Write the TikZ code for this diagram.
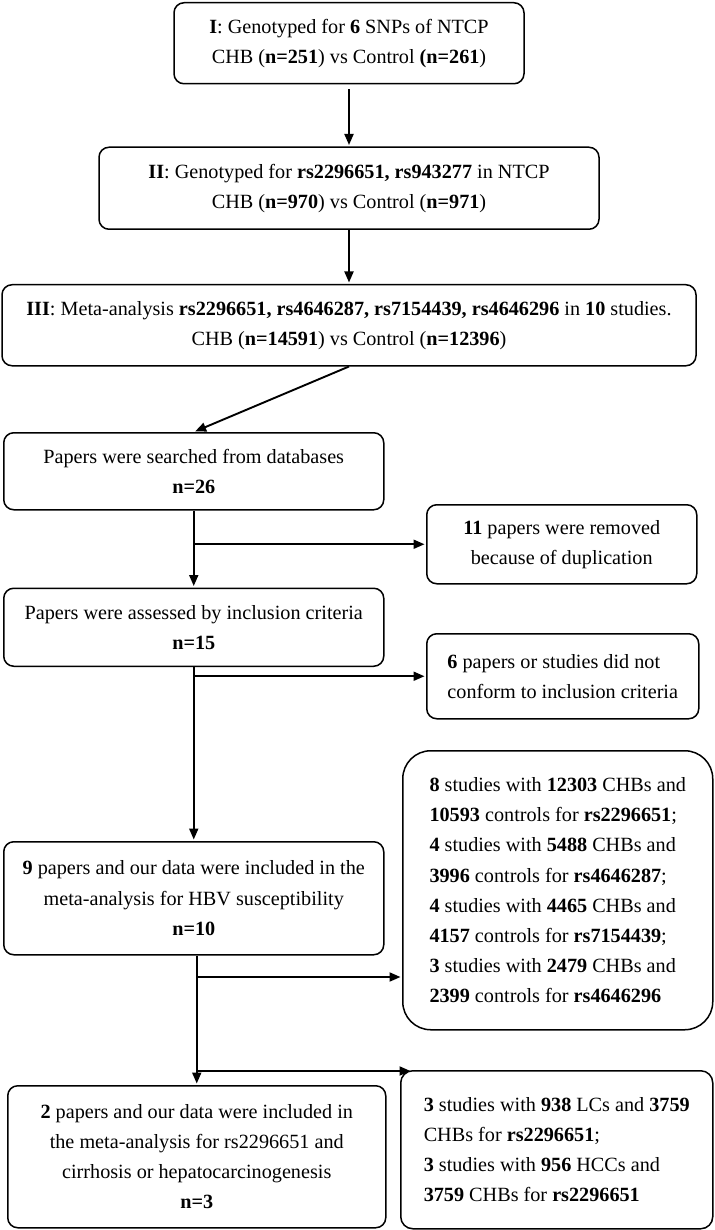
\documentclass[tikz,border=0pt]{standalone}
\usepackage{fontspec}
\setmainfont{Liberation Serif}
\usetikzlibrary{positioning, arrows.meta, calc}

\tikzset{
  box/.style = {draw, line width=1.5pt, rounded corners=10pt, align=center,
    inner sep=4pt, font=\fontsize{20.2}{30.2}\selectfont},
  sidebox/.style = {box, align=left},
  flow/.style = {line width=1.9pt, shorten >=1.5pt,
    -{Triangle[length=11pt, width=9pt]}},
}

\begin{document}
\begin{tikzpicture}[x=1pt, y=1pt, node distance=2cm]
  \useasboundingbox (0,0) rectangle (714,-1230);
  \node (one) [box, minimum width=350pt, minimum height=81pt, anchor=north] at (349,-2)
    {\textbf{I}: Genotyped for \textbf{6} SNPs of NTCP\\CHB (\textbf{n=251}) vs Control \textbf{(n=261})};
  \node (two) [box, minimum width=500pt, minimum height=82pt, below = 62pt of one]
    {\textbf{II}: Genotyped for \textbf{rs2296651, rs943277} in NTCP\\CHB (\textbf{n=970}) vs Control (\textbf{n=971})};
  \node (three) [box, minimum width=694pt, minimum height=81pt, below = 54pt of two]
    {\textbf{III}: Meta-analysis \textbf{rs2296651, rs4646287, rs7154439, rs4646296} in \textbf{10} studies.\\CHB (\textbf{n=14591}) vs Control (\textbf{n=12396})};
  \node (search) [box, minimum width=380pt, minimum height=77pt, anchor=north west] at (3,-432)
    {Papers were searched from databases\\\textbf{n=26}};
  \node (dup) [box, minimum width=270pt, minimum height=79pt, anchor=north west] at (426,-504)
    {\textbf{11} papers were removed\\because of duplication};
  \node (assess) [box, minimum width=380pt, minimum height=78pt, below = 77pt of search]
    {Papers were assessed by inclusion criteria\\\textbf{n=15}};
  \node (excl) [sidebox, minimum width=272pt, minimum height=85pt, anchor=north west] at (426,-633)
    {\textbf{6} papers or studies did not\\conform to inclusion criteria};
  \node (susc) [box, minimum width=380pt, minimum height=113pt, below = 174pt of assess]
    {\textbf{9} papers and our data were included in the\\meta-analysis for HBV susceptibility\\\textbf{n=10}};
  \node (snps) [sidebox, rounded corners=28pt, minimum width=310pt, minimum height=279pt, anchor=north west] at (402,-750)
    {\textbf{8} studies with \textbf{12303} CHBs and\\\textbf{10593} controls for \textbf{rs2296651};\\
     \textbf{4} studies with \textbf{5488} CHBs and\\\textbf{3996} controls for \textbf{rs4646287};\\
     \textbf{4} studies with \textbf{4465} CHBs and\\\textbf{4157} controls for \textbf{rs7154439};\\
     \textbf{3} studies with \textbf{2479} CHBs and\\\textbf{2399} controls for \textbf{rs4646296}};
  \node (cirr) [box, minimum width=378pt, minimum height=142pt, anchor=north west] at (7,-1085)
    {\textbf{2} papers and our data were included in\\the meta-analysis for rs2296651 and\\cirrhosis or hepatocarcinogenesis\\\textbf{n=3}};
  \node (hcc) [sidebox, rounded corners=12pt, minimum width=312pt, minimum height=158pt, anchor=north west] at (400,-1070)
    {\textbf{3} studies with \textbf{938} LCs and \textbf{3759}\\CHBs for \textbf{rs2296651};\\
     \textbf{3} studies with \textbf{956} HCCs and\\\textbf{3759} CHBs for \textbf{rs2296651}};

  \coordinate (split1) at ($(susc.south -| cirr.north)+(0,-21.5)$);
  \coordinate (split2) at ($(cirr.north)+(0,14)$);

  \draw [flow, shorten <=5pt] (one) -- (two);
  \draw [flow] (two) -- (three);
  \draw [flow] (three.south) -- (search.north);
  \draw [flow] (search) -- (assess);
  \draw [flow] (search.south |- dup.west) -- (dup.west);
  \draw [flow] (assess) -- (susc);
  \draw [flow] (assess.south |- excl.west) -- (excl.west);
  \draw [flow] (susc.south -| cirr.north) -- (cirr.north);
  \draw [flow] (split1) -- (split1 -| snps.west);
  \draw [flow] (split2) -- ($(split2 -| hcc.west)+(12,0)$);
\end{tikzpicture}
\end{document}
